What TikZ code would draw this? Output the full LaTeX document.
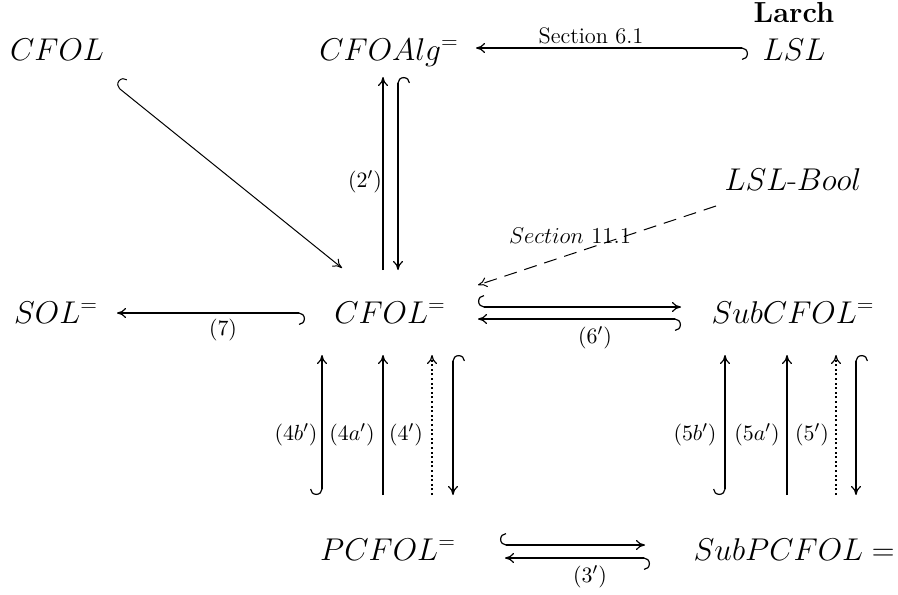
\documentclass[tikz,border=0pt]{standalone}
\usetikzlibrary{arrows.meta}
\begin{document}
\begin{tikzpicture}[x=0.5pt,y=-0.5pt,
  obj/.style={inner sep=0pt, anchor=base, font=\fontsize{17.28}{20}\selectfont, scale=0.911, transform shape},
  lab/.style={inner sep=0pt, font=\fontsize{10.95}{13}\selectfont},
  ar/.style={line width=1pt, -{Computer Modern Rightarrow[length=4.5pt,width=5pt,line width=0.6pt]}},
  hk/.style={line width=1pt, {Hooks[right,arc=180,length=3pt,width=12pt,line width=0.6pt]}-{Computer Modern Rightarrow[length=4.5pt,width=5pt,line width=0.6pt]}},
  thinhk/.style={line width=0.5pt, {Hooks[right,arc=180,length=3pt,width=12pt]}-{Computer Modern Rightarrow[length=4.5pt,width=5pt]}},
  dotar/.style={ar, dash pattern=on 1pt off 1.3pt}
]
\useasboundingbox (0,0) rectangle (898,594);

% objects
\node[obj] (cfol) at (57,60) {$CFOL$};
\node[obj] (cfoalg) at (389,60) {$CFOAlg^=$};
\node[inner sep=0pt, anchor=base, font=\bfseries\fontsize{14.5}{16}\selectfont] (larch) at (794,22) {Larch};
\node[obj] (lsl) at (794,60) {$LSL$};
\node[obj] (lslbool) at (793,190) {$LSL\mbox{-}Bool$};
\node[obj] (sol) at (56,323) {$SOL^=$};
\node[obj] (cfoleq) at (390,323) {$CFOL^=$};
\node[obj] (subcfol) at (793,323) {$SubCFOL^=$};
\node[obj] (pcfol) at (388,560) {$PCFOL^=$};
\node[obj, anchor=base east] (subpcfol) at (895,560) {$SubPCFOL =$};

% connector end points
\coordinate (s61a) at (748,48);  \coordinate (s61b) at (476,48);
\coordinate (dsa) at (716,206);  \coordinate (dsb) at (478,285);
\coordinate (dga) at (115,85);   \coordinate (dgb) at (342,268);
\coordinate (u2a) at (383,270);  \coordinate (u2b) at (383,77);
\coordinate (d2a) at (398,77);   \coordinate (d2b) at (398,270);
\coordinate (s7a) at (305,313);  \coordinate (s7b) at (117,313);
\coordinate (s6ua) at (478,307); \coordinate (s6ub) at (681,307);
\coordinate (s6la) at (681,319); \coordinate (s6lb) at (478,319);
\coordinate (v4ba) at (322,495); \coordinate (v4bb) at (322,355);
\coordinate (v4aa) at (383,495); \coordinate (v4ab) at (383,355);
\coordinate (v4a) at (432,495);  \coordinate (v4b) at (432,355);
\coordinate (v4da) at (453,355); \coordinate (v4db) at (453,495);
\coordinate (v5ba) at (725,495); \coordinate (v5bb) at (725,355);
\coordinate (v5aa) at (787,495); \coordinate (v5ab) at (787,355);
\coordinate (v5a) at (836,495);  \coordinate (v5b) at (836,355);
\coordinate (v5da) at (856,355); \coordinate (v5db) at (856,495);
\coordinate (s3ua) at (500,545); \coordinate (s3ub) at (645,545);
\coordinate (s3la) at (650,558); \coordinate (s3lb) at (505,558);

% connectors
\draw[hk] (s61a) -- (s61b);
\draw[line width=0.5pt, dash pattern=on 6.5pt off 4pt, -{Computer Modern Rightarrow[length=4.5pt,width=5pt]}] (dsa) -- (dsb);
\draw[thinhk] (dga) -- (dgb);
\draw[ar] (u2a) -- (u2b);
\draw[hk] (d2a) -- (d2b);
\draw[hk] (s7a) -- (s7b);
\draw[hk] (s6ua) -- (s6ub);
\draw[hk] (s6la) -- (s6lb);
\draw[hk] (v4ba) -- (v4bb);
\draw[ar] (v4aa) -- (v4ab);
\draw[dotar] (v4a) -- (v4b);
\draw[hk] (v4da) -- (v4db);
\draw[hk] (v5ba) -- (v5bb);
\draw[ar] (v5aa) -- (v5ab);
\draw[dotar] (v5a) -- (v5b);
\draw[hk] (v5da) -- (v5db);
\draw[hk] (s3ua) -- (s3ub);
\draw[hk] (s3la) -- (s3lb);

% labels
\node[lab, anchor=base, font=\fontsize{11.2}{13}\selectfont] (l61) at (591,43) {Section 6.1};
\node[inner sep=0pt, anchor=base, font=\fontsize{12}{14}\selectfont, scale=0.95, transform shape] (l111) at (570,243) {$Section\ 11.1$};
\node[lab] (l2) at (365,182) {$(2')$};
\node[lab] (l7) at (223,330) {$(7)$};
\node[lab] (l6) at (595,338) {$(6')$};
\node[lab] (l4b) at (296,435) {$(4b')$};
\node[lab] (l4a) at (352,435) {$(4a')$};
\node[lab] (l4) at (406,435) {$(4')$};
\node[lab] (l5b) at (695,435) {$(5b')$};
\node[lab] (l5a) at (757,435) {$(5a')$};
\node[lab] (l5) at (812,435) {$(5')$};
\node[lab] (l3) at (590,577) {$(3')$};
\end{tikzpicture}
\end{document}
